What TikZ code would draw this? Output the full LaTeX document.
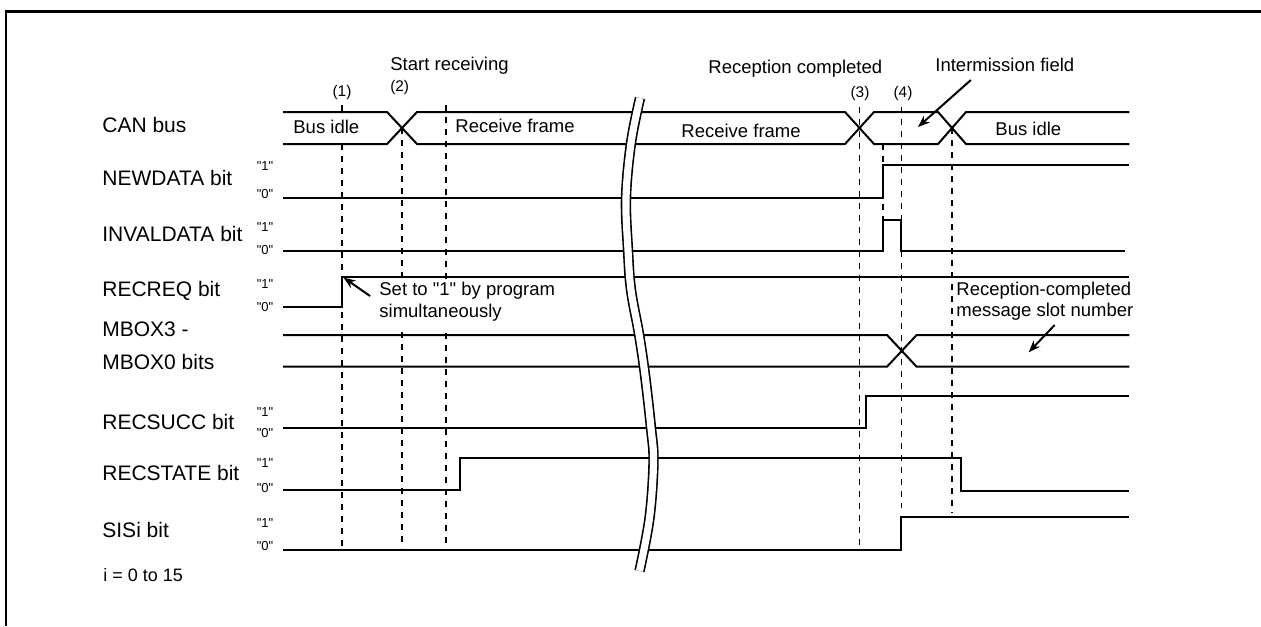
\documentclass[tikz,border=0pt]{standalone}
\usepackage{fontspec}
\setmainfont{Liberation Sans}[Ligatures=TeXOff]
\usetikzlibrary{arrows.meta}
\begin{document}
\begin{tikzpicture}[x=0.5pt,y=-0.5pt,
  sig/.style={line width=1pt},
  dsh/.style={line width=0.8pt,dash pattern=on 3pt off 3pt},
  frm/.style={line width=1.35pt},
  brk/.style={line width=0.8pt,double=white,double distance=3.6pt},
  arr/.style={line width=1pt,-{Stealth[length=6pt,width=4.5pt]}},
  lbl/.style={font=\fontsize{10.5}{12}\selectfont,anchor=base west,inner sep=0pt},
  ann/.style={font=\fontsize{9.25}{11}\selectfont,anchor=base west,inner sep=0pt},
  num/.style={font=\fontsize{7.7}{9}\selectfont,inner sep=0pt},
  lvl/.style={font=\fontsize{6.5}{7}\selectfont,inner sep=0pt}]
\useasboundingbox (0,0) rectangle (1261,626);
% frame
\draw[frm] (6,626) -- (6,11.5) -- (1261,11.5);

% row labels
\node[lbl] (lcan) at (102,132) {CAN bus};
\node[lbl] (lnew) at (102,185.5) {NEWDATA bit};
\node[lbl] (linv) at (102,241) {INVALDATA bit};
\node[lbl] (lreq) at (102,296.5) {RECREQ bit};
\node[lbl] (lmb1) at (102,336.5) {MBOX3 -};
\node[lbl] (lmb2) at (102,369.5) {MBOX0 bits};
\node[lbl] (lsuc) at (102,429.5) {RECSUCC bit};
\node[lbl] (lsta) at (102,480.5) {RECSTATE bit};
\node[lbl] (lsis) at (102,537) {SISi bit};
\node[ann,font=\fontsize{9}{11}\selectfont] (note) at (103,581.5) {i = 0 to 15};

% level labels
\node[lvl] (n1) at (265,165.7) {"1"};
\node[lvl] (n0) at (265,194.3) {"0"};
\node[lvl] (i1) at (265,226.7) {"1"};
\node[lvl] (i0) at (265,250) {"0"};
\node[lvl] (r1) at (265,283.7) {"1"};
\node[lvl] (r0) at (265,306.7) {"0"};
\node[lvl] (s1) at (265,411.7) {"1"};
\node[lvl] (s0) at (265,433.3) {"0"};
\node[lvl] (t1) at (265,463.3) {"1"};
\node[lvl] (t0) at (265,488.3) {"0"};
\node[lvl] (q1) at (265,522.7) {"1"};
\node[lvl] (q0) at (265,546) {"0"};

% dashed time markers
\draw[dsh] (342,105) -- (342,113);
\draw[dsh] (342,144) -- (342,547);
\draw[dsh] (401.7,128) -- (401.7,548);
\draw[dsh] (446,105) -- (446,547);
\draw[dsh] (859.3,106.7) -- (859.3,545);
\draw[dsh] (882.7,144) -- (882.7,220);
\draw[dsh] (901.4,106.7) -- (901.4,508);
\draw[dsh] (952.2,128) -- (952.2,513);

% numbers and annotations
\node[num] (m1) at (342,93) {(1)};
\node[num] (m2) at (399.7,88) {(2)};
\node[num] (m3) at (860,93.5) {(3)};
\node[num] (m4) at (903,93.5) {(4)};
\node[ann] (start) at (390,70) {Start receiving};
\node[ann] (rcomp) at (708,74) {Reception completed};
\node[ann] (inter) at (935,72) {Intermission field};

\fill[white] (376,279) rectangle (560,329);
\node[ann] (set1) at (379,295) {Set to "1" by program};
\node[ann] (set2) at (379,317) {simultaneously};
\node[ann] (slot1) at (956,295) {Reception-completed};
\node[ann] (slot2) at (956,316) {message slot number};

% CAN bus
\draw[sig] (283,112) -- (387,112) -- (417,144) -- (845,144) -- (874,112) -- (938,112) -- (966,144) -- (1129.4,144);
\draw[sig] (283,144) -- (387,144) -- (417,112) -- (845,112) -- (874,144) -- (938,144) -- (966,112) -- (1129.4,112);
\node[ann] (bi1) at (293,133.3) {Bus idle};
\node[ann] (rf1) at (455,133) {Receive frame};
\node[ann] (rf2) at (681,137) {Receive frame};
\node[ann] (bi2) at (995,135) {Bus idle};

% NEWDATA
\draw[sig] (283,197.7) -- (882.7,197.7) -- (882.7,165) -- (1129.4,165);
% INVALDATA
\draw[sig] (283,250.7) -- (882.7,250.7) -- (882.7,220) -- (901.4,220) -- (901.4,250.7) -- (1125,250.7);
% RECREQ
\draw[sig] (283,306.7) -- (342,306.7) -- (342,276.7) -- (1129.4,276.7);
% MBOX
\draw[sig] (283,335) -- (887,335) -- (916.6,366.7) -- (1129.4,366.7);
\draw[sig] (283,366.7) -- (887,366.7) -- (916.6,335) -- (1129.4,335);
% RECSUCC
\draw[sig] (283,428) -- (865.8,428) -- (865.8,395.7) -- (1129.4,395.7);
% RECSTATE
\draw[sig] (283,490) -- (460,490) -- (460,458.3) -- (961.3,458.3) -- (961.3,491) -- (1129.4,491);
% SISi
\draw[sig] (283,550) -- (901.4,550) -- (901.4,516.7) -- (1129.4,516.7);

% break mark
\draw[brk] plot[smooth,tension=0.6] coordinates {(640,98) (631,143) (626,198) (628,250) (631,290) (639,334) (645,375) (651,428) (653.5,462) (649.5,518) (639.5,571)};

% arrows
\coordinate (a1s) at (370,296);
\coordinate (a1e) at (343.5,277.5);
\coordinate (a2s) at (970.9,80);
\coordinate (a2e) at (917.9,127);
\coordinate (a3s) at (1054.7,325);
\coordinate (a3e) at (1028.6,352.3);
\draw[arr] (a1s) -- (a1e);
\draw[arr] (a2s) -- (a2e);
\draw[arr] (a3s) -- (a3e);
\end{tikzpicture}
\end{document}
